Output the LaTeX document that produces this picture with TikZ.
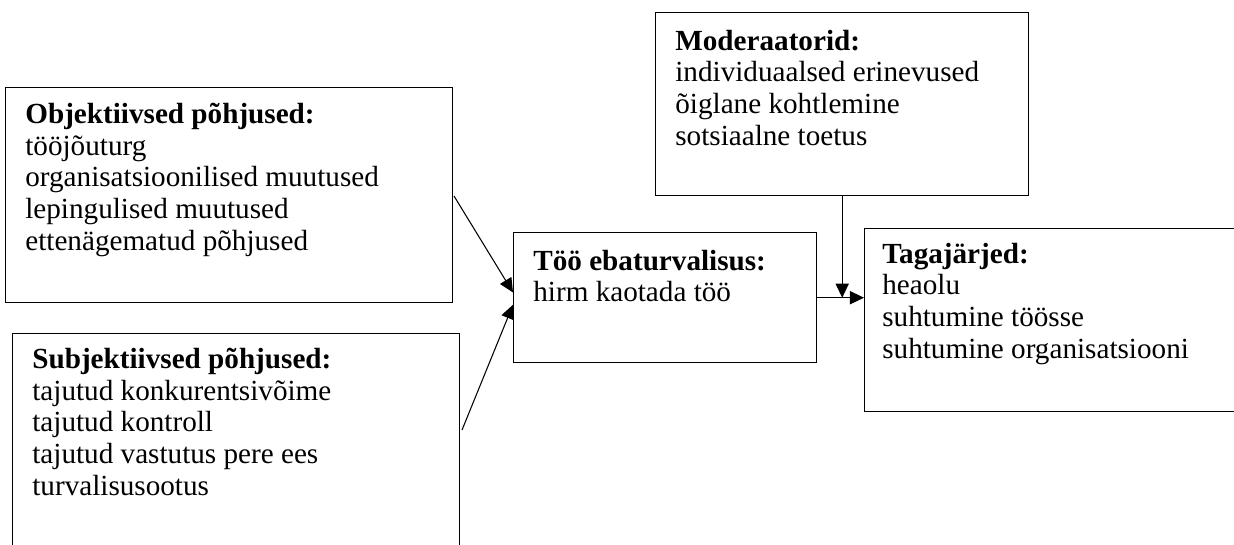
\documentclass[tikz,border=0pt]{standalone}
\usepackage{fontspec}
\setmainfont{Liberation Serif}
\usetikzlibrary{arrows.meta}
\begin{document}
\begin{tikzpicture}
	\tikzstyle{every node}=[font=\fontsize{16.6}{18}\selectfont]
	\tikzstyle{box}=[draw, line width=0.8pt, anchor=north west, inner sep=0pt]
	\tikzstyle{list}=[anchor=base west, align=left, inner sep=0pt]
	\tikzstyle{relation}=[line width=0.6pt, -{Triangle[length=8pt,width=7.5pt]}]

	\useasboundingbox (0,0) rectangle (24.68,-10.88);

	\node[box, minimum width=8.94cm, minimum height=4.30cm] (obj) at (0.10,-1.74) {};
	\node[box, minimum width=8.94cm, minimum height=4.30cm] (subj) at (0.24,-6.66) {};
	\node[box, minimum width=6.06cm, minimum height=2.60cm] (too) at (10.26,-4.64) {};
	\node[box, minimum width=7.46cm, minimum height=3.66cm] (mod) at (13.10,-0.24) {};
	\node[box, minimum width=7.46cm, minimum height=3.66cm] (tag) at (17.28,-4.56) {};

	% lists are placed by the baseline of their last line
	\node[list] (objlist) at (0.50,-5.00) {\textbf{Objektiivsed põhjused:}\\tööjõuturg\\organisatsioonilised muutused\\lepingulised muutused\\ettenägematud põhjused};
	\node[list] (subjlist) at (0.64,-9.90) {\textbf{Subjektiivsed põhjused:}\\tajutud konkurentsivõime\\tajutud kontroll\\tajutud vastutus pere ees\\turvalisusootus};
	\node[list] (toolist) at (10.66,-6.035) {\textbf{Töö ebaturvalisus:}\\hirm kaotada töö};
	\node[list] (modlist) at (13.50,-2.905) {\textbf{Moderaatorid:}\\individuaalsed erinevused\\õiglane kohtlemine\\sotsiaalne toetus};
	\node[list] (taglist) at (17.64,-7.165) {\textbf{Tagajärjed:}\\heaolu\\suhtumine töösse\\suhtumine organisatsiooni};

	\coordinate (objout) at (9.08,-3.92);
	\coordinate (subjout) at (9.24,-8.60);
	\draw[relation] (objout) -- ([yshift=3pt]too.west);
	\draw[relation] (subjout) -- ([yshift=-4pt]too.west);
	\draw[relation] (too.east) -- (tag.west |- too.east);
	\draw[relation] (mod.south) -- (mod.south |- too.east);
\end{tikzpicture}
\end{document}
